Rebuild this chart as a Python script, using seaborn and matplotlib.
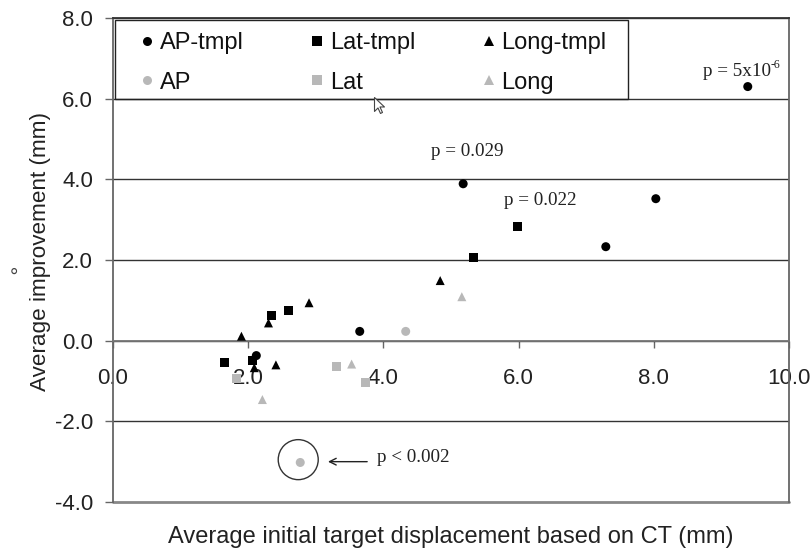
import pandas as pd
import matplotlib
matplotlib.use('Agg')
import matplotlib.pyplot as plt
from matplotlib.patches import Ellipse, Rectangle
from matplotlib.path import Path
import seaborn as sns

sns.set_theme(style='white')
plt.rcParams['font.family'] = ['Liberation Sans', 'DejaVu Sans']

GRID = '#666666'
TEXT = '#222222'
GREY = '#b8b8b8'

ap_tmpl_x = [9.39, 5.18, 8.03, 7.29, 3.65, 2.12]
ap_tmpl_y = [6.30, 3.89, 3.52, 2.33, 0.23, -0.37]
lat_tmpl_x = [1.65, 2.06, 2.35, 2.60, 5.33, 5.99]
lat_tmpl_y = [-0.53, -0.50, 0.62, 0.74, 2.05, 2.83]
long_tmpl_x = [1.90, 2.09, 2.30, 2.41, 2.90, 4.84]
long_tmpl_y = [0.11, -0.67, 0.44, -0.60, 0.94, 1.49]
ap_x = [4.33, 2.77]
ap_y = [0.23, -3.02]
lat_x = [3.30, 3.74, 1.83]
lat_y = [-0.65, -1.03, -0.95]
long_x = [3.53, 2.21, 5.16]
long_y = [-0.58, -1.46, 1.09]

xticks = [0, 2, 4, 6, 8, 10]
yticks = [-4, -2, 0, 2, 4, 6, 8]

frames = []
for name, xs, ys in [('AP', ap_x, ap_y), ('Lat', lat_x, lat_y), ('Long', long_x, long_y),
                     ('AP-tmpl', ap_tmpl_x, ap_tmpl_y), ('Lat-tmpl', lat_tmpl_x, lat_tmpl_y),
                     ('Long-tmpl', long_tmpl_x, long_tmpl_y)]:
    frames.append(pd.DataFrame({'x': xs, 'y': ys, 'series': name}))
df = pd.concat(frames)

palette = {'AP': GREY, 'Lat': GREY, 'Long': GREY, 'AP-tmpl': 'black', 'Lat-tmpl': 'black', 'Long-tmpl': 'black'}
markers = {'AP': 'o', 'Lat': 's', 'Long': '^', 'AP-tmpl': 'o', 'Lat-tmpl': 's', 'Long-tmpl': '^'}

fig = plt.figure(figsize=(8.12, 5.52), dpi=100)
ax = fig.add_axes([113/812, 1-502/552, 676/812, 484/552])

sns.scatterplot(data=df, x='x', y='y', hue='series', style='series', palette=palette, markers=markers,
                s=42, linewidth=0, ax=ax, zorder=3)

ax.set_xlim(0, 10)
ax.set_ylim(-4, 8)
ax.set_xticks(xticks)
ax.set_yticks(yticks)
ax.set_xticklabels([f'{v:.1f}' for v in xticks])
ax.set_yticklabels([f'{v:.1f}' for v in yticks])
ax.tick_params(axis='x', direction='out', length=5, width=1, color=GRID, labelsize=16, labelcolor=TEXT, pad=15, bottom=True)
ax.tick_params(axis='y', direction='out', length=5.8, width=1, color=GRID, labelsize=16, labelcolor=TEXT, pad=8.5, left=True)
ax.grid(axis='y', color='#333333', linewidth=1)
ax.set_axisbelow(True)
bottom_line = ax.get_ygridlines()[0]
bottom_line.set_color('#888888')
bottom_line.set_linewidth(2)
bottom_line.set_clip_on(False)

ax.spines['bottom'].set_position(('data', 0))
for side in ax.spines:
    ax.spines[side].set_visible(True)
    ax.spines[side].set_color(GRID)
    ax.spines[side].set_linewidth(1.3)
ax.spines['top'].set_color('#333333')
ax.spines['bottom'].set_color('#777777')

ax.set_xlabel('Average initial target displacement based on CT (mm)', fontsize=17, color=TEXT)
ax.set_ylabel('Average improvement (mm)', fontsize=16.2, color=TEXT)
ax.xaxis.set_label_coords(0.5, -0.05)
ax.yaxis.set_label_coords(-0.091, 0.517)

# legend frame sits just inside the axes edge, which gives the double line
ax.add_patch(Rectangle((0.03, 6), 7.59, 1.95, fill=False, edgecolor='#222222', linewidth=1, zorder=2))

handles, labels = ax.get_legend_handles_labels()
lookup = dict(zip(labels, handles))
order = ['AP-tmpl', 'AP', 'Lat-tmpl', 'Lat', 'Long-tmpl', 'Long']
leg = ax.legend([lookup[k] for k in order], order, ncols=3, loc='upper left',
                bbox_to_anchor=(0.154, 7.65), bbox_transform=ax.transData, fontsize=17,
                frameon=False, borderaxespad=0, borderpad=0, handletextpad=-0.45,
                labelspacing=0.74, columnspacing=2.1)
leg.set_zorder(4)
for t in leg.get_texts():
    t.set_color('#111111')

serif = ['Liberation Serif', 'DejaVu Serif']
ax.text(5.24, 4.69, 'p = 0.029', family=serif, fontsize=13.8, ha='center', va='center', color=TEXT)
ax.text(6.32, 3.47, 'p = 0.022', family=serif, fontsize=13.8, ha='center', va='center', color=TEXT)
ax.text(8.73, 6.67, 'p = 5x10', family=serif, fontsize=13.8, ha='left', va='center', color=TEXT)
ax.text(9.73, 6.84, '-6', family=serif, fontsize=8.5, ha='left', va='center', color=TEXT)
ax.text(4.445, -2.90, 'p < 0.002', family=serif, fontsize=13.8, ha='center', va='center', color=TEXT)

# circle and arrow round the significant AP point
ax.add_patch(Ellipse((2.74, -2.95), 40/67.6, 40/40.33, fill=False, edgecolor='#333333', linewidth=1))
ax.annotate('', xy=(3.18, -3.0), xytext=(3.76, -3.0),
            arrowprops=dict(arrowstyle='->', color='#222222', lw=1, shrinkA=0, shrinkB=0))

# stray mouse pointer from the screenshot
cursor = Path([(0, 0), (0, -14), (3.5, -10.5), (6, -16), (8, -15), (5.5, -9.5), (10, -9.5), (0, 0)], closed=True)
ax.plot([3.86], [6.05], marker=cursor, markersize=23, markerfacecolor='white', markeredgecolor='#444444',
        markeredgewidth=0.8, zorder=5, clip_on=False)

fig.text(14/812, 1-277/552, '°', fontsize=15, color='#444444', ha='center', va='center')

fig.savefig('out.png', dpi=100)
